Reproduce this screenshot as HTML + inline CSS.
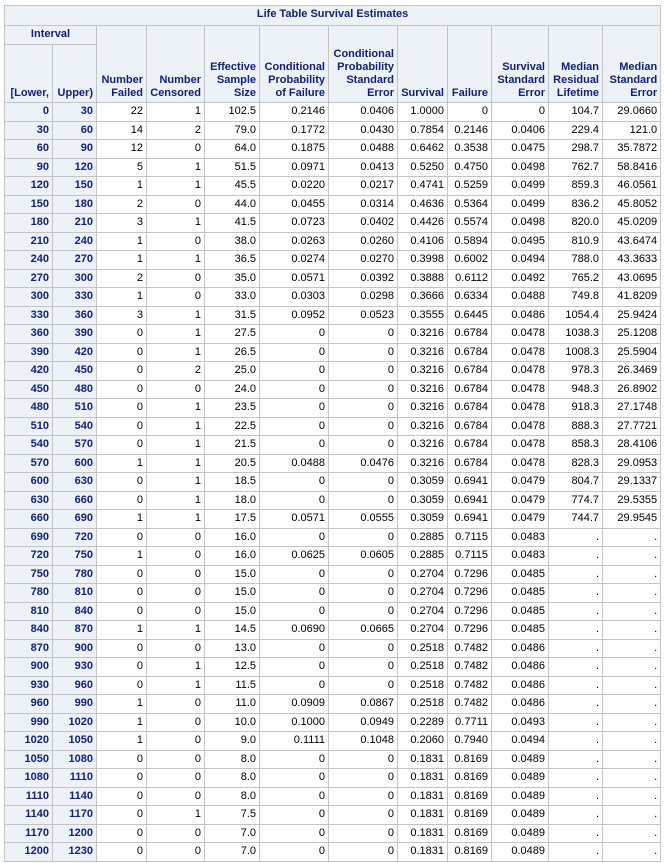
<!DOCTYPE html>
<html><head><meta charset="utf-8"><style>
body{margin:0;background:#fff;font-family:"Liberation Sans",Arial,sans-serif;}
table{position:absolute;left:4px;top:5px;border-collapse:collapse;table-layout:fixed;width:656px;font-size:11px;}
td,th{border:1px solid #c4c4c4;padding:0 3px;white-space:nowrap;overflow:hidden;}
th{background:#edf2f9;color:#112277;font-weight:bold;text-align:right;vertical-align:bottom;line-height:13px;padding-bottom:2px}
th.c{text-align:center;vertical-align:middle}
td{background:#fff;color:#000;text-align:right;height:17.5px;line-height:17px;padding-top:0;padding-bottom:0}
td.rh{background:#edf2f9;color:#112277;font-weight:bold}
</style></head><body>
<table>
<colgroup><col style="width:48px"><col style="width:44px"><col style="width:50px"><col style="width:58px"><col style="width:55px"><col style="width:69px"><col style="width:69px"><col style="width:50px"><col style="width:44px"><col style="width:57px"><col style="width:54px"><col style="width:58px"></colgroup>
<thead>
<tr style="height:20px"><th colspan="12" class="c">Life Table Survival Estimates</th></tr>
<tr style="height:19px"><th colspan="2" class="c">Interval</th>
<th rowspan="2">Number<br>Failed</th>
<th rowspan="2">Number<br>Censored</th>
<th rowspan="2">Effective<br>Sample<br>Size</th>
<th rowspan="2">Conditional<br>Probability<br>of Failure</th>
<th rowspan="2">Conditional<br>Probability<br>Standard<br>Error</th>
<th rowspan="2">Survival</th>
<th rowspan="2">Failure</th>
<th rowspan="2">Survival<br>Standard<br>Error</th>
<th rowspan="2">Median<br>Residual<br>Lifetime</th>
<th rowspan="2">Median<br>Standard<br>Error</th></tr>
<tr style="height:58px"><th>[Lower,</th><th>Upper)</th></tr>
</thead>
<tbody id="tb"></tbody>
</table>
<script>
const rows=[
"0|30|22|1|102.5|0.2146|0.0406|1.0000|0|0|104.7|29.0660",
"30|60|14|2|79.0|0.1772|0.0430|0.7854|0.2146|0.0406|229.4|121.0",
"60|90|12|0|64.0|0.1875|0.0488|0.6462|0.3538|0.0475|298.7|35.7872",
"90|120|5|1|51.5|0.0971|0.0413|0.5250|0.4750|0.0498|762.7|58.8416",
"120|150|1|1|45.5|0.0220|0.0217|0.4741|0.5259|0.0499|859.3|46.0561",
"150|180|2|0|44.0|0.0455|0.0314|0.4636|0.5364|0.0499|836.2|45.8052",
"180|210|3|1|41.5|0.0723|0.0402|0.4426|0.5574|0.0498|820.0|45.0209",
"210|240|1|0|38.0|0.0263|0.0260|0.4106|0.5894|0.0495|810.9|43.6474",
"240|270|1|1|36.5|0.0274|0.0270|0.3998|0.6002|0.0494|788.0|43.3633",
"270|300|2|0|35.0|0.0571|0.0392|0.3888|0.6112|0.0492|765.2|43.0695",
"300|330|1|0|33.0|0.0303|0.0298|0.3666|0.6334|0.0488|749.8|41.8209",
"330|360|3|1|31.5|0.0952|0.0523|0.3555|0.6445|0.0486|1054.4|25.9424",
"360|390|0|1|27.5|0|0|0.3216|0.6784|0.0478|1038.3|25.1208",
"390|420|0|1|26.5|0|0|0.3216|0.6784|0.0478|1008.3|25.5904",
"420|450|0|2|25.0|0|0|0.3216|0.6784|0.0478|978.3|26.3469",
"450|480|0|0|24.0|0|0|0.3216|0.6784|0.0478|948.3|26.8902",
"480|510|0|1|23.5|0|0|0.3216|0.6784|0.0478|918.3|27.1748",
"510|540|0|1|22.5|0|0|0.3216|0.6784|0.0478|888.3|27.7721",
"540|570|0|1|21.5|0|0|0.3216|0.6784|0.0478|858.3|28.4106",
"570|600|1|1|20.5|0.0488|0.0476|0.3216|0.6784|0.0478|828.3|29.0953",
"600|630|0|1|18.5|0|0|0.3059|0.6941|0.0479|804.7|29.1337",
"630|660|0|1|18.0|0|0|0.3059|0.6941|0.0479|774.7|29.5355",
"660|690|1|1|17.5|0.0571|0.0555|0.3059|0.6941|0.0479|744.7|29.9545",
"690|720|0|0|16.0|0|0|0.2885|0.7115|0.0483|.|.",
"720|750|1|0|16.0|0.0625|0.0605|0.2885|0.7115|0.0483|.|.",
"750|780|0|0|15.0|0|0|0.2704|0.7296|0.0485|.|.",
"780|810|0|0|15.0|0|0|0.2704|0.7296|0.0485|.|.",
"810|840|0|0|15.0|0|0|0.2704|0.7296|0.0485|.|.",
"840|870|1|1|14.5|0.0690|0.0665|0.2704|0.7296|0.0485|.|.",
"870|900|0|0|13.0|0|0|0.2518|0.7482|0.0486|.|.",
"900|930|0|1|12.5|0|0|0.2518|0.7482|0.0486|.|.",
"930|960|0|1|11.5|0|0|0.2518|0.7482|0.0486|.|.",
"960|990|1|0|11.0|0.0909|0.0867|0.2518|0.7482|0.0486|.|.",
"990|1020|1|0|10.0|0.1000|0.0949|0.2289|0.7711|0.0493|.|.",
"1020|1050|1|0|9.0|0.1111|0.1048|0.2060|0.7940|0.0494|.|.",
"1050|1080|0|0|8.0|0|0|0.1831|0.8169|0.0489|.|.",
"1080|1110|0|0|8.0|0|0|0.1831|0.8169|0.0489|.|.",
"1110|1140|0|0|8.0|0|0|0.1831|0.8169|0.0489|.|.",
"1140|1170|0|1|7.5|0|0|0.1831|0.8169|0.0489|.|.",
"1170|1200|0|0|7.0|0|0|0.1831|0.8169|0.0489|.|.",
"1200|1230|0|0|7.0|0|0|0.1831|0.8169|0.0489|.|."
];
const tb=document.getElementById('tb');
rows.forEach((r,i)=>{
  const tr=document.createElement('tr');
  
  
  r.split('|').forEach((v,j)=>{
    const td=document.createElement('td');
    if(j<2)td.className='rh';
    
    
    td.textContent=v;
    tr.appendChild(td);
  });
  tb.appendChild(tr);
});
</script>
</body></html>
